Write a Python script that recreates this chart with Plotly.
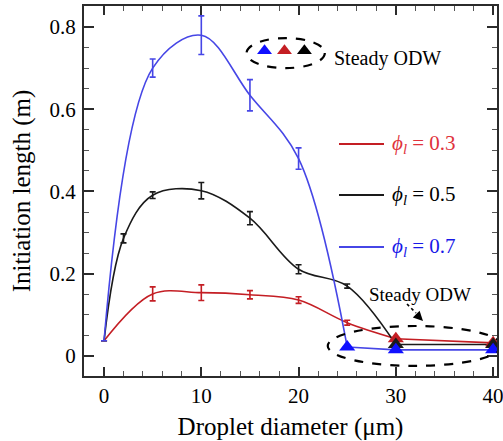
import plotly.graph_objects as go

# ---------------- data ----------------
diam_03 = [0, 5, 10, 15, 20, 25, 30, 40]
len_03 = [0.037, 0.151, 0.154, 0.149, 0.136, 0.081, 0.042, 0.032]
err_03 = [0, 0.017, 0.019, 0.010, 0.008, 0.006, 0, 0]
steady_03 = [False, False, False, False, False, False, True, True]

diam_05 = [0, 2, 5, 10, 15, 20, 25, 30, 40]
len_05 = [0.037, 0.286, 0.391, 0.402, 0.335, 0.211, 0.170, 0.028, 0.028]
err_05 = [0, 0.011, 0.008, 0.020, 0.016, 0.011, 0.005, 0, 0]
steady_05 = [False, False, False, False, False, False, False, True, True]

diam_07 = [0, 5, 10, 15, 20, 25, 30, 40]
len_07 = [0.037, 0.700, 0.780, 0.634, 0.480, 0.022, 0.015, 0.015]
err_07 = [0, 0.022, 0.047, 0.038, 0.026, 0, 0, 0]
steady_07 = [False, False, False, False, False, True, True, True]

labels = ["<i>ϕ<sub>l</sub></i> = 0.3", "<i>ϕ<sub>l</sub></i> = 0.5", "<i>ϕ<sub>l</sub></i> = 0.7"]
x_ticks = [0, 10, 20, 30, 40]
y_ticks = [0, 0.2, 0.4, 0.6, 0.8]
y_ticktext = ["0", "0.2", "0.4", "0.6", "0.8"]

# ---------------- styles ----------------
RED = "#c41e24"
RED_TXT = "#e0323c"
BLACK = "#1a1a1a"
BLUE = "#4646e6"
BLUE_TRI = "#1010ff"
BLUE_TXT = "#1818e8"
FONT = "Liberation Serif"

series = [
    (diam_03, len_03, err_03, steady_03, RED, RED),
    (diam_05, len_05, err_05, steady_05, BLACK, BLACK),
    (diam_07, len_07, err_07, steady_07, BLUE, BLUE_TRI),
]

fig = go.Figure()

for d, v, e, s, col, tcol in series:
    # index of the first steady (triangle) point: smooth curve up to it, straight after
    k = s.index(True)
    fig.add_trace(go.Scatter(
        x=d[:k + 1], y=v[:k + 1], mode="lines",
        line=dict(color=col, width=1.6, shape="spline", smoothing=1.0),
        error_y=dict(type="data", array=e[:k + 1], visible=True, color=col, thickness=1.6, width=3),
        hoverinfo="skip",
    ))
    fig.add_trace(go.Scatter(
        x=d[k:], y=v[k:], mode="lines",
        line=dict(color=col, width=1.6),
        hoverinfo="skip",
    ))

for d, v, e, s, col, tcol in series:
    fig.add_trace(go.Scatter(
        x=[a for a, f in zip(d, s) if f],
        y=[b for b, f in zip(v, s) if f],
        mode="markers",
        marker=dict(symbol="triangle-up", size=14, color=tcol),
        hoverinfo="skip",
    ))

# legend glyph triangles inside the upper dashed ellipse
fig.add_trace(go.Scatter(
    x=[16.5, 18.55, 20.6], y=[0.742, 0.742, 0.742], mode="markers",
    marker=dict(symbol="triangle-up", size=13, color=[BLUE_TRI, RED, "#000000"]),
    hoverinfo="skip",
))

shapes = []
annotations = []

def px(xp):
    return (xp - 84) / 413

def py(yp):
    return (376 - yp) / 370

# upper dashed ellipse + label
shapes.append(dict(type="circle", xref="x", yref="y", x0=14.65, x1=22.7, y0=0.700, y1=0.773,
                   line=dict(color="black", width=2.2, dash="dash")))
annotations.append(dict(xref="paper", yref="paper", x=px(332), y=py(58),
                        text="Steady ODW", showarrow=False, xanchor="left", yanchor="middle",
                        font=dict(family=FONT, size=20, color="black")))

# lower dashed ellipse + label + arrow
shapes.append(dict(type="circle", xref="x", yref="y", x0=23.0, x1=40.9, y0=-0.024, y1=0.073,
                   line=dict(color="black", width=2.2, dash="dash")))
annotations.append(dict(xref="paper", yref="paper", x=px(420), y=py(294),
                        text="Steady ODW", showarrow=False, xanchor="center", yanchor="middle",
                        font=dict(family=FONT, size=19, color="black")))
shapes.append(dict(type="line", xref="paper", yref="paper",
                   x0=px(407), y0=py(304), x1=px(416), y1=py(313),
                   line=dict(color="black", width=1.6, dash="dot")))
annotations.append(dict(xref="paper", yref="paper", x=px(423), y=py(321),
                        ax=-8, ay=-8, text="", showarrow=True,
                        arrowhead=2, arrowsize=1.2, arrowwidth=1.6, arrowcolor="black"))

# manual legend
leg_y = [144, 195, 247]
leg_cols = [RED, BLACK, BLUE]
leg_txt = [RED_TXT, "black", BLUE_TXT]
for yy, lc, tc, lab in zip(leg_y, leg_cols, leg_txt, labels):
    shapes.append(dict(type="line", xref="paper", yref="paper",
                       x0=px(339), x1=px(384), y0=py(yy), y1=py(yy),
                       line=dict(color=lc, width=2)))
    annotations.append(dict(xref="paper", yref="paper", x=px(390), y=py(yy),
                            text=lab, showarrow=False, xanchor="left", yanchor="middle",
                            font=dict(family=FONT, size=21, color=tc)))

AX = "#2b2b2b"
fig.update_layout(
    width=503, height=441,
    margin=dict(l=84, r=6, t=6, b=65),
    plot_bgcolor="white", paper_bgcolor="white",
    showlegend=False,
    font=dict(family=FONT, size=20, color="black"),
    shapes=shapes, annotations=annotations,
    xaxis=dict(
        range=[-2.06, 40.4], tickvals=x_ticks, ticks="inside", ticklen=9, tickwidth=2, tickcolor=AX,
        showline=True, linewidth=2, linecolor=AX, mirror="ticks",
        showgrid=False, zeroline=False, automargin=False,
        minor=dict(dtick=2, tick0=0, ticks="inside", ticklen=5, tickwidth=1.2, tickcolor="#555"),
        tickfont=dict(family=FONT, size=21, color="black"),
        ticklabelstandoff=0, ticklabeloverflow="allow",
        title=dict(text="Droplet diameter (μm)", font=dict(family=FONT, size=25), standoff=16),
    ),
    yaxis=dict(
        range=[-0.0486, 0.851], tickvals=y_ticks, ticktext=y_ticktext,
        ticks="inside", ticklen=10, tickwidth=2, tickcolor=AX,
        showline=True, linewidth=2, linecolor=AX, mirror="ticks",
        showgrid=False, zeroline=False, automargin=False,
        minor=dict(dtick=0.05, tick0=0, ticks="inside", ticklen=5, tickwidth=1.2, tickcolor="#555"),
        tickfont=dict(family=FONT, size=21, color="black"),
        ticklabelstandoff=2, ticklabeloverflow="allow",
        title=dict(text="Initiation length (m)", font=dict(family=FONT, size=25), standoff=12),
    ),
)

fig.write_html("out.html")
